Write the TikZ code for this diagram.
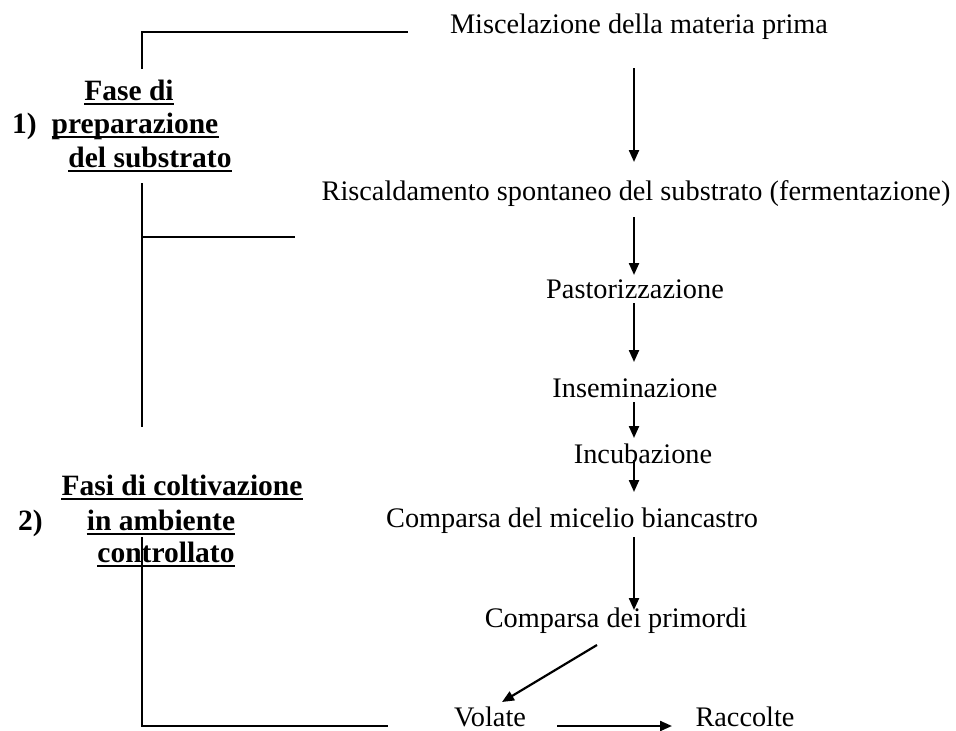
\documentclass[tikz,border=0pt]{standalone}
\usepackage{fontspec}
\setmainfont{Liberation Serif}
\usepackage{tikz}
\usetikzlibrary{arrows.meta}

\begin{document}
\begin{tikzpicture}[x=1pt,y=-1pt,
  every node/.style={inner sep=0pt, anchor=base, font=\fontsize{28.3}{33}\selectfont},
  phase/.style={font=\fontsize{29.5}{34}\selectfont\bfseries},
  flow/.style={-{Triangle[length=12pt,width=10pt]}, line width=2.2pt},
  bracket/.style={line width=1.6pt},
  uline/.style={line width=1.4pt}]
 \useasboundingbox (0,0) rectangle (956,731);

 % steps of the process
 \node (misc)  at (639,33)  {Miscelazione della materia prima};
 \node (risc)  at (636,200) {Riscaldamento spontaneo del substrato (fermentazione)};
 \node (past)  at (635,298) {Pastorizzazione};
 \node (insem) at (635,397) {Inseminazione};
 \node (incub) at (643,463) {Incubazione};
 \node (mic)   at (572,527) {Comparsa del micelio biancastro};
 \node (prim)  at (616,627) {Comparsa dei primordi};
 \node (vol)   at (490,726) {Volate};
 \node (racc)  at (745,726) {Raccolte};

 \coordinate (spine) at (634,0);
 \draw[flow] ([yshift=-35pt]misc.base -| spine) -- ([yshift=38pt]risc.base -| spine);
 \draw[flow] ([yshift=-17pt]risc.base -| spine) -- ([yshift=23pt]past.base -| spine);
 \draw[flow] ([yshift=-5pt]past.base -| spine) -- ([yshift=35pt]insem.base -| spine);
 \draw[flow] ([yshift=-5pt]insem.base -| spine) -- ([yshift=25pt]incub.base -| spine);
 \draw[flow] ([yshift=3pt]incub.base -| spine) -- ([yshift=35pt]mic.base -| spine);
 \draw[flow] ([yshift=-10pt]mic.base -| spine) -- ([yshift=17pt]prim.base -| spine);
 \draw[flow] ([xshift=-19pt,yshift=-18pt]prim.base) -- ([xshift=12pt,yshift=24pt]vol.base);
 \draw[flow] ([xshift=67pt,yshift=0pt]vol.base) -- ([xshift=-73pt,yshift=0pt]racc.base);

 % phase labels
 \node[phase, anchor=base west] (one) at (12,133) {1)};
 \node[phase] (fa) at (129,100) {Fase di};
 \node[phase] (fb) at (135,133) {preparazione};
 \node[phase] (fc) at (150,167) {del substrato};
 \node[phase, anchor=base west] (two) at (18,530) {2)};
 \node[phase] (ga) at (182,495) {Fasi di coltivazione};
 \node[phase] (gb) at (161,530) {in ambiente};
 \node[phase] (gc) at (166,562) {controllato};
 \foreach \n in {fa,fb,fc,ga,gb,gc}
   \draw[uline] ([yshift=-4pt]\n.base west) -- ([yshift=-4pt]\n.base east);

 % brackets
 \draw[bracket] (142,69) -- (142,32) -- (408,32);
 \draw[bracket] (142,183) -- (142,427);
 \draw[bracket] (142,237) -- (295,237);
 \draw[bracket] (142,537) -- (142,726) -- (388,726);
\end{tikzpicture}
\end{document}
